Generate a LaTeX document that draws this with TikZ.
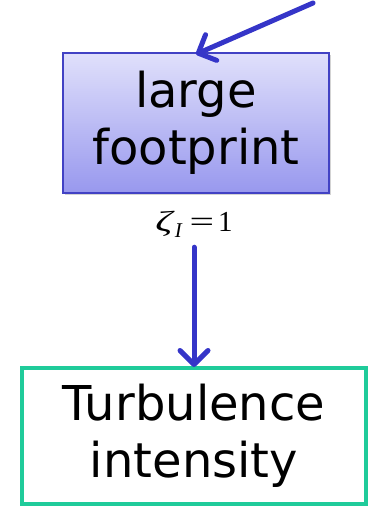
\documentclass[tikz,border=0pt]{standalone}
\usepackage{fontspec}
\setmainfont{DejaVu Sans}
\newfontfamily\timesfam{Liberation Serif}
\usetikzlibrary{arrows.meta,shadows}
\definecolor{arrowblue}{HTML}{3535C8}
\definecolor{boxedge}{HTML}{4242C4}
\definecolor{boxtop}{HTML}{E0E0FB}
\definecolor{boxbot}{HTML}{9898EE}
\definecolor{turbgreen}{HTML}{1FCB9A}
\tikzset{
  bigtext/.style={font=\fontsize{48}{57}\selectfont, align=center, inner sep=0pt},
  lfbox/.style={bigtext, draw=boxedge, line width=1.6pt, top color=boxtop, bottom color=boxbot,
    minimum width=266pt, minimum height=140pt,
    drop shadow={shadow xshift=1.5pt, shadow yshift=-2pt, opacity=0.35}},
  tibox/.style={bigtext, draw=turbgreen, line width=4pt, fill=white,
    minimum width=344pt, minimum height=136pt},
  flow/.style={draw=arrowblue, line width=5pt, line cap=round,
    -{Straight Barb[length=14pt,width=28pt,line cap=round,line join=round]}},
  eqlabel/.style={font=\timesfam\fontsize{29}{32}\selectfont, inner sep=0pt, minimum height=46pt},
}
\begin{document}
\begin{tikzpicture}[x=1pt,y=-1pt]
\useasboundingbox (0,0) rectangle (370,508);
\node[lfbox] (lf) at (196,123) {large\\footprint};
\node[tibox] (ti) at (194,436) {Turbulence\\intensity};
\node[eqlabel] (zeta) at (194,224) {\scalebox{1.45}[1]{\textit{ζ}}\hspace{0pt}\raisebox{-6pt}{\fontsize{21}{23}\selectfont\textit{I}}\hspace{7pt}\scalebox{1.5}[1]{=}\hspace{4pt}1};
\coordinate (src) at (313,3);
\begin{scope}
\clip (0,0) rectangle (370,508);
\draw[flow] (src) -- ([yshift=-2pt]lf.north);
\end{scope}
\draw[flow] (zeta.south) -- ([yshift=-1pt]ti.north);
\end{tikzpicture}
\end{document}
